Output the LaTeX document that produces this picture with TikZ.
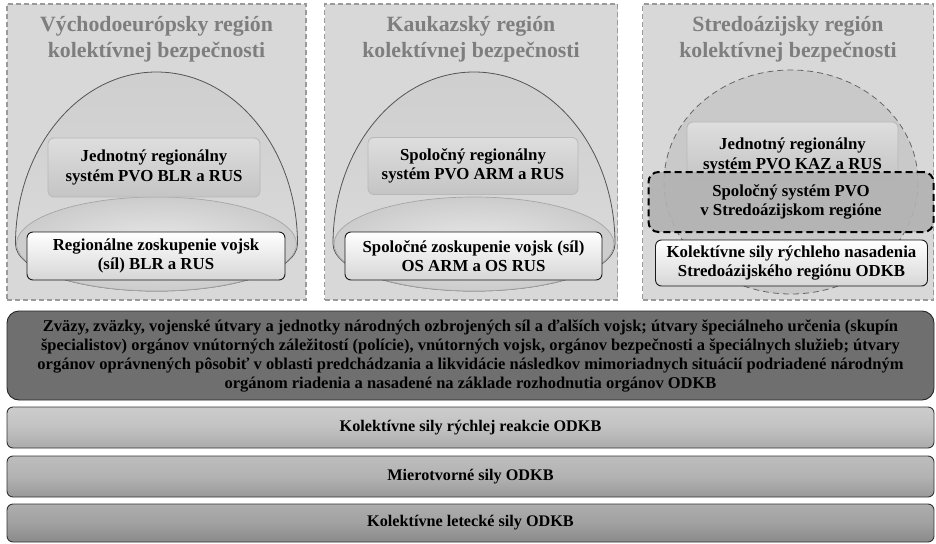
\documentclass[tikz,border=0pt]{standalone}
\usepackage{fontspec}
\setmainfont{LiberationSerif}[Extension=.ttf, UprightFont=*-Regular, BoldFont=*-Bold, ItalicFont=*-Italic, BoldItalicFont=*-BoldItalic]
\definecolor{panelgray}{HTML}{D8D8D8}
\definecolor{panelline}{HTML}{9A9A9A}
\definecolor{titlegray}{HTML}{7E7E7E}
\definecolor{domeline}{HTML}{555555}
\definecolor{darkbox}{HTML}{6F6F6F}
\begin{document}
\begin{tikzpicture}[x=1pt,y=-1pt,
  every node/.style={inner sep=0pt},
  panel/.style={rectangle, draw=panelline, fill=panelgray, line width=1.3pt, dash pattern=on 5pt off 3pt},
  titletext/.style={text=titlegray, align=center, font=\bfseries\fontsize{21.8}{26.5}\selectfont},
  upbox/.style={rectangle, rounded corners=6pt, draw=black!28, line width=0.8pt, top color=black!13, bottom color=black!23, align=center, font=\bfseries\fontsize{16.8}{19.5}\selectfont},
  lowbox/.style={rectangle, rounded corners=6pt, draw=black!90, line width=0.9pt, top color=white, bottom color=black!16, align=center, font=\bfseries\fontsize{16.8}{19.5}\selectfont},
  dashbox/.style={rectangle, rounded corners=10pt, draw=black, line width=2pt, dash pattern=on 7pt off 4pt, fill=black!30, fill opacity=0.9, text opacity=1, align=center, font=\bfseries\fontsize{16.8}{19.5}\selectfont},
  bandbox/.style={rectangle, rounded corners=6pt, draw=black!80, line width=0.9pt, align=center, font=\bfseries\fontsize{16.2}{19}\selectfont},
  domefill/.style={draw=domeline, line width=0.8pt, top color=black!19, bottom color=black!14},
  basefill/.style={draw=black!35, line width=0.7pt, inner color=black!9, outer color=black!20}
]
\useasboundingbox (0,0) rectangle (936,543);
\fill[white] (0,0) rectangle (936,543);

\newcommand\mydome[1]{%
  \path[domefill] ({#1-141},244) .. controls ({#1-141},149) and ({#1-78},72) .. (#1,72)
     .. controls ({#1+78},72) and ({#1+141},149) .. ({#1+141},244)
     .. controls ({#1+141},270) and ({#1+78},291) .. (#1,291)
     .. controls ({#1-78},291) and ({#1-141},270) .. cycle;
  \path[basefill] (#1,244) ellipse [x radius=140, y radius=47];
}

% ---------- panels ----------
\node[panel, minimum width=299pt, minimum height=296pt] (p1) at (156.5,152) {};
\node[panel, minimum width=293pt, minimum height=296pt] (p2) at (471,152) {};
\node[panel, minimum width=291pt, minimum height=296pt] (p3) at (788,152) {};

\node[titletext] (t1) at (156.5,39) {Východoeurópsky región\\kolektívnej bezpečnosti};
\node[titletext] (t2) at (471,39) {Kaukazský región\\kolektívnej bezpečnosti};
\node[titletext] (t3) at (788,39) {Stredoázijsky región\\kolektívnej bezpečnosti};

% ---------- left panel ----------
\mydome{156.5}
\node[upbox, minimum width=212pt, minimum height=59pt] (a1) at (154,167.5) {Jednotný regionálny\\systém PVO BLR a RUS};
\node[lowbox, minimum width=258pt, minimum height=48pt] (a2) at (156,256) {Regionálne zoskupenie vojsk\\(síl) BLR a RUS};

% ---------- middle panel ----------
\mydome{474}
\node[upbox, minimum width=210pt, minimum height=57pt] (b1) at (473,166) {Spoločný regionálny\\systém PVO ARM a RUS};
\node[lowbox, minimum width=257pt, minimum height=48pt] (b2) at (473.5,256) {Spoločné zoskupenie vojsk (síl)\\OS ARM a OS RUS};

% ---------- right panel ----------
\path[draw=black!60, line width=0.8pt, dash pattern=on 6pt off 4pt, fill=black!21] (791,182) ellipse [x radius=127, y radius=112];
\node[upbox, minimum width=211pt, minimum height=58pt, text depth=0pt] (c1) at (792.5,151) {\raisebox{6pt}{\begin{tabular}{@{}c@{}}Jednotný regionálny\\systém PVO KAZ a RUS\end{tabular}}};
\node[dashbox, minimum width=285pt, minimum height=60pt] (c2) at (791,202) {Spoločný systém PVO\\v Stredoázijskom regióne};
\node[lowbox, minimum width=272pt, minimum height=46pt] (c3) at (791.5,263) {Kolektívne sily rýchleho nasadenia\\Stredoázijského regiónu ODKB};

% ---------- bottom bands ----------
\node[bandbox, rounded corners=12pt, fill=darkbox, draw=black!85, minimum width=927pt, minimum height=89pt,
      font=\bfseries\fontsize{16.5}{19}\selectfont] (d1) at (470.5,355.5)
  {Zväzy, zväzky, vojenské útvary a jednotky národných ozbrojených síl a ďalších vojsk; útvary špeciálneho určenia (skupín\\
   špecialistov) orgánov vnútorných záležitostí (polície), vnútorných vojsk, orgánov bezpečnosti a špeciálnych služieb; útvary\\
   orgánov oprávnených pôsobiť v oblasti predchádzania a likvidácie následkov mimoriadnych situácií podriadené národným\\
   orgánom riadenia a nasadené na základe rozhodnutia orgánov ODKB};
\node[bandbox, top color=black!20, bottom color=black!33, middle color=black!24, minimum width=927pt, minimum height=41pt] (d2) at (470.5,427.5) {Kolektívne sily rýchlej reakcie ODKB};
\node[bandbox, top color=black!26, bottom color=black!40, middle color=black!30, minimum width=927pt, minimum height=41pt] (d3) at (470.5,476.5) {Mierotvorné sily ODKB};
\node[bandbox, top color=black!32, bottom color=black!46, middle color=black!37, minimum width=927pt, minimum height=38pt] (d4) at (470.5,523) {Kolektívne letecké sily ODKB};
\end{tikzpicture}
\end{document}
